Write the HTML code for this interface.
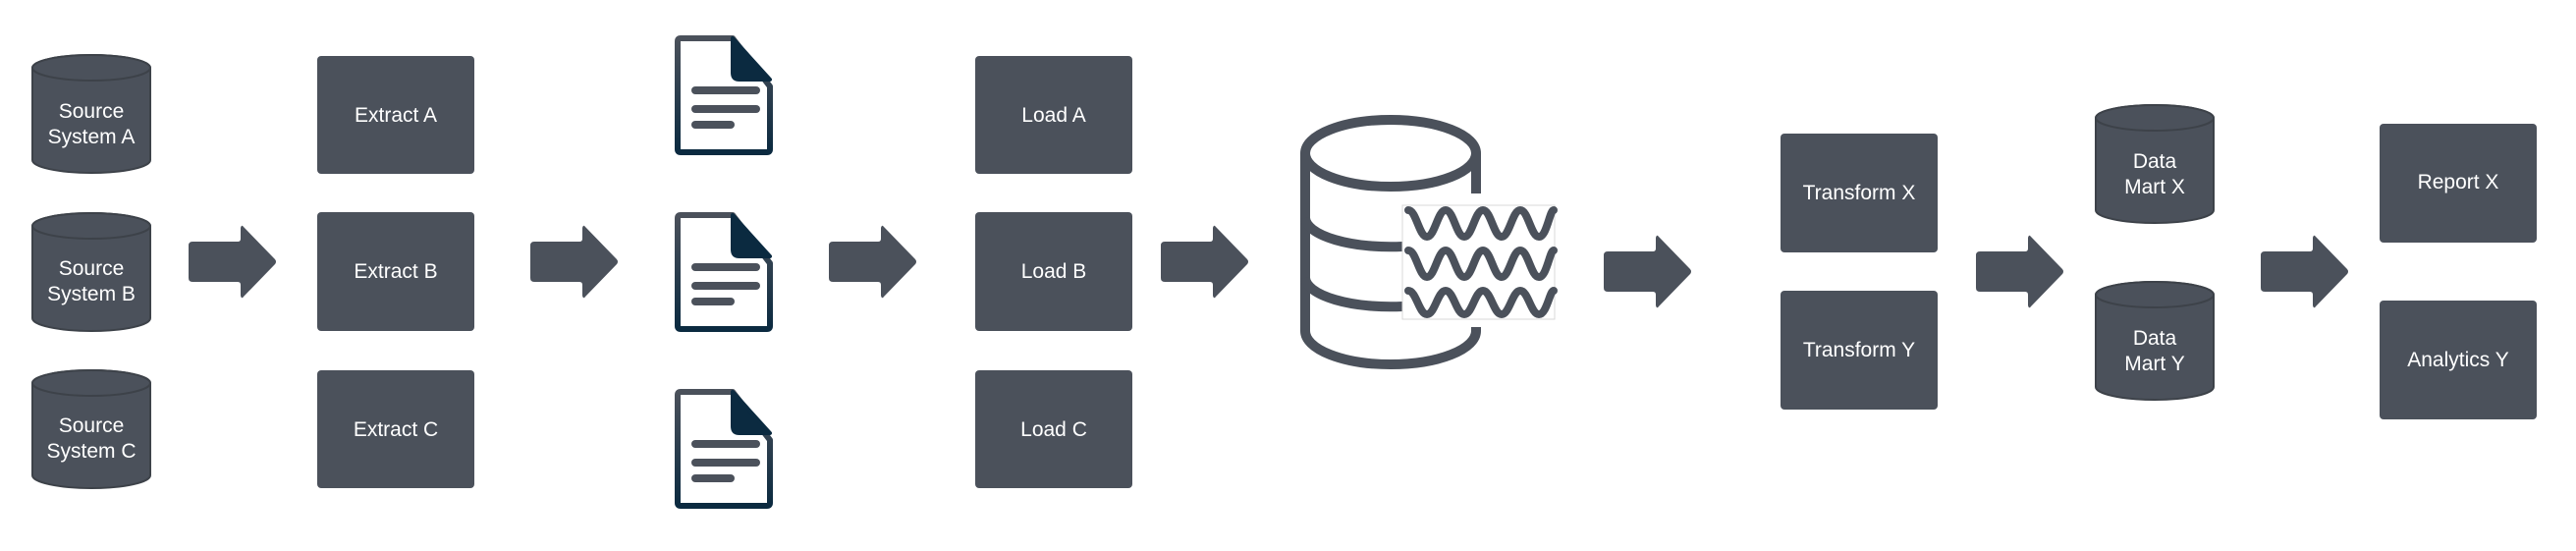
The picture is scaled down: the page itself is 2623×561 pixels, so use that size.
<!DOCTYPE html>
<html><head><meta charset="utf-8"><style>
html,body{margin:0;padding:0;background:#fff;}
svg{display:block;}
text{font-family:"Liberation Sans",sans-serif;font-size:21px;fill:#fff;text-anchor:middle;}
</style></head><body>
<svg width="2623" height="561" viewBox="0 0 2623 561" xmlns="http://www.w3.org/2000/svg">
<defs>
<symbol id="arr" viewBox="0 0 90 75" overflow="visible">
<path d="M4 17 H50 Q53 17 53 14 V3 Q54 -1 56 2 L88 35 Q90 37.5 88 40 L56 73 Q54 76 53 72 V61 Q53 58 50 58 H4 Q0 58 0 54 V21 Q0 17 4 17 Z" fill="#4b515b"/>
</symbol>
<symbol id="cyl" viewBox="0 0 122 122" overflow="visible">
<path d="M1 14 V108 A60 13 0 0 0 121 108 V14 A60 13 0 0 0 1 14 Z" fill="#4b515b" stroke="#3d4249" stroke-width="2"/>
<ellipse cx="61" cy="14" rx="60" ry="13" fill="#4b515b" stroke="#3d4249" stroke-width="2"/>
</symbol>
<linearGradient id="dg" x1="0" y1="0" x2="0" y2="1"><stop offset="0" stop-color="#4b515b"/><stop offset="1" stop-color="#0b2a40"/></linearGradient>
<symbol id="doc" viewBox="0 0 100 122" overflow="visible">
<path d="M3 6 Q3 3 6 3 H59 L97 52 V116 Q97 119 94 119 H6 Q3 119 3 116 Z" fill="#fff" stroke="url(#dg)" stroke-width="6" stroke-linejoin="round"/>
<path d="M59 3 L97 45 H66 Q59 45 59 38 Z" fill="#0b2a40" stroke="#0b2a40" stroke-width="4" stroke-linejoin="round"/>
<g stroke="#4b515b" stroke-width="8" stroke-linecap="round">
<line x1="21" y1="56" x2="83" y2="56"/><line x1="21" y1="75" x2="83" y2="75"/><line x1="21" y1="91" x2="57" y2="91"/></g>
</symbol>
</defs>

<!-- Source cylinders -->
<use href="#cyl" x="32" y="55" width="122" height="122"/>
<use href="#cyl" x="32" y="216" width="122" height="122"/>
<use href="#cyl" x="32" y="376" width="122" height="122"/>
<text x="93" y="120">Source</text><text x="93" y="146">System A</text>
<text x="93" y="280">Source</text><text x="93" y="306">System B</text>
<text x="93" y="440">Source</text><text x="93" y="466">System C</text>

<!-- Extract -->
<g fill="#4b515b">
<rect x="323" y="57" width="160" height="120" rx="4"/>
<rect x="323" y="216" width="160" height="121" rx="4"/>
<rect x="323" y="377" width="160" height="120" rx="4"/>
<rect x="993" y="57" width="160" height="120" rx="4"/>
<rect x="993" y="216" width="160" height="121" rx="4"/>
<rect x="993" y="377" width="160" height="120" rx="4"/>
<rect x="1813" y="136" width="160" height="121" rx="4"/>
<rect x="1813" y="296" width="160" height="121" rx="4"/>
<rect x="2423" y="126" width="160" height="121" rx="4"/>
<rect x="2423" y="306" width="160" height="121" rx="4"/>
</g>
<text x="403" y="124">Extract A</text>
<text x="403" y="283">Extract B</text>
<text x="403" y="444">Extract C</text>
<text x="1073" y="124">Load A</text>
<text x="1073" y="283">Load B</text>
<text x="1073" y="444">Load C</text>
<text x="1893" y="203">Transform X</text>
<text x="1893" y="363">Transform Y</text>
<text x="2503" y="192">Report X</text>
<text x="2503" y="373">Analytics Y</text>

<!-- Docs -->
<use href="#doc" x="687" y="36" width="100" height="122"/>
<use href="#doc" x="687" y="216" width="100" height="122"/>
<use href="#doc" x="687" y="396" width="100" height="122"/>

<!-- Arrows -->
<use href="#arr" x="192" y="229" width="90" height="75"/>
<use href="#arr" x="540" y="229" width="90" height="75"/>
<use href="#arr" x="844" y="229" width="90" height="75"/>
<use href="#arr" x="1182" y="229" width="90" height="75"/>
<use href="#arr" x="1633" y="239" width="90" height="75"/>
<use href="#arr" x="2012" y="239" width="90" height="75"/>
<use href="#arr" x="2302" y="239" width="90" height="75"/>

<!-- DB icon -->
<g fill="none" stroke="#4b515b" stroke-width="10">
<ellipse cx="1416" cy="156" rx="87" ry="34"/>
<path d="M1329 156 V337 A87 34 0 0 0 1503 337 V333"/>
<path d="M1503 156 V197"/>
<path d="M1329 222 A87 30 0 0 0 1428 251"/>
<path d="M1329 283 A87 30 0 0 0 1428 312"/>
</g>
<rect x="1428" y="209" width="155" height="116" fill="#fff" stroke="#d8d8d8" stroke-width="1"/>
<g fill="none" stroke="#4b515b" stroke-width="8" stroke-linecap="round">
<path d="M1434 214 C1442 214 1445 241 1453 241 C1461 241 1464 214 1472 214 C1480 214 1483 241 1491 241 C1499 241 1502 214 1510 214 C1518 214 1521 241 1529 241 C1537 241 1540 214 1548 214 C1556 214 1559 241 1567 241 C1575 241 1578 214 1582 214"/>
<path d="M1434 255 C1442 255 1445 282 1453 282 C1461 282 1464 255 1472 255 C1480 255 1483 282 1491 282 C1499 282 1502 255 1510 255 C1518 255 1521 282 1529 282 C1537 282 1540 255 1548 255 C1556 255 1559 282 1567 282 C1575 282 1578 255 1582 255"/>
<path d="M1434 296 C1442 296 1445 320 1453 320 C1461 320 1464 296 1472 296 C1480 296 1483 320 1491 320 C1499 320 1502 296 1510 296 C1518 296 1521 320 1529 320 C1537 320 1540 296 1548 296 C1556 296 1559 320 1567 320 C1575 320 1578 296 1582 296"/>
</g>

<!-- Data marts -->
<use href="#cyl" x="2133" y="106" width="122" height="122"/>
<use href="#cyl" x="2133" y="286" width="122" height="122"/>
<text x="2194" y="171">Data</text><text x="2194" y="197">Mart X</text>
<text x="2194" y="351">Data</text><text x="2194" y="377">Mart Y</text>
</svg>
</body></html>
